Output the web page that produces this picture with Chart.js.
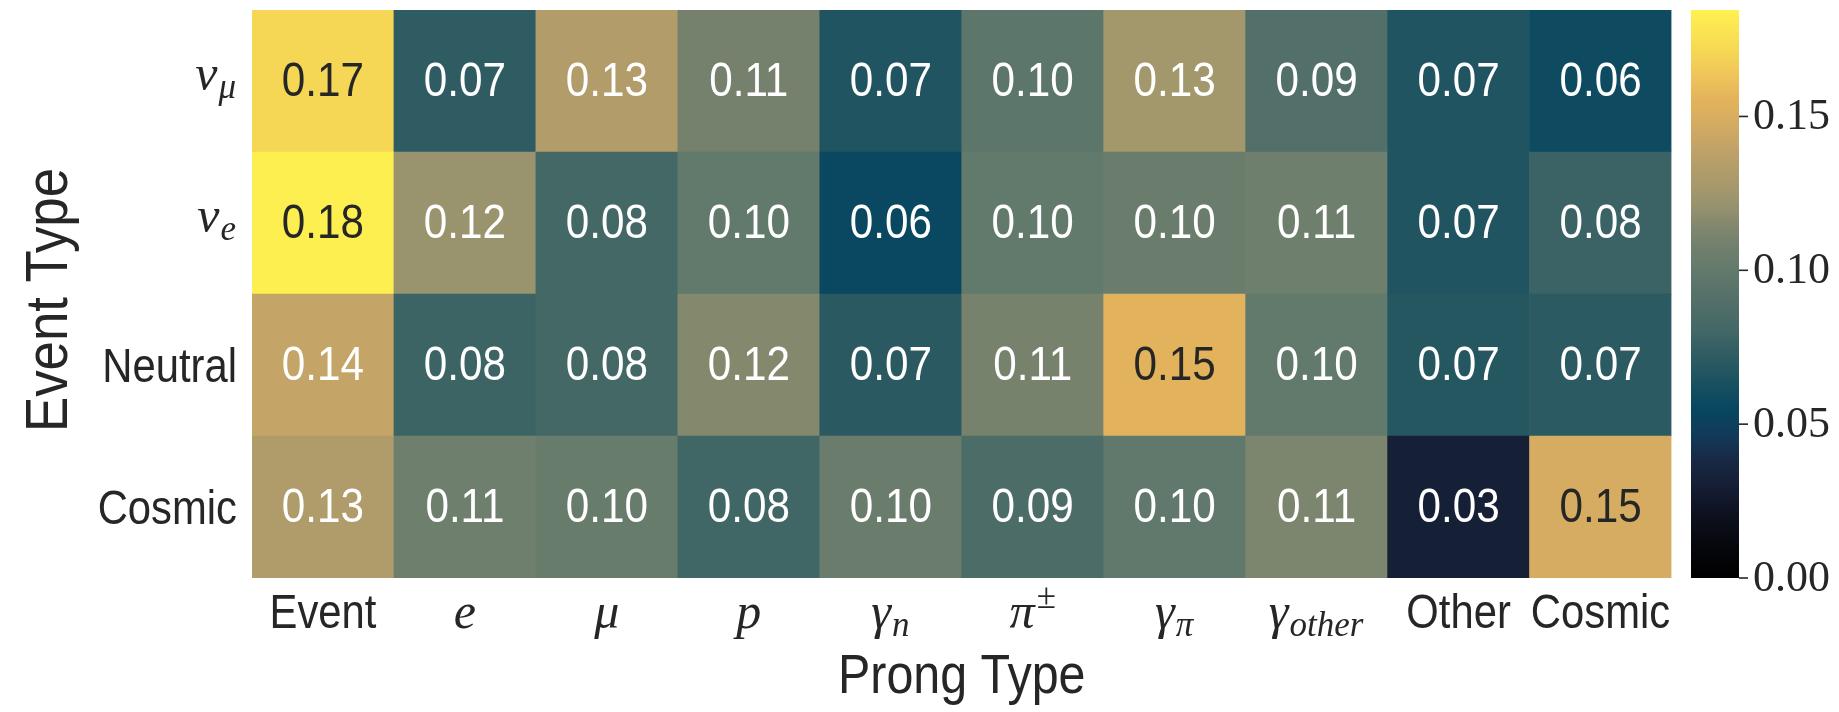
<!DOCTYPE html>
<html>
<head>
<meta charset="utf-8">
<script src="https://cdn.jsdelivr.net/npm/chart.js@4.4.1/dist/chart.umd.min.js"></script>
<style>
    html, body {margin: 0; background: #fff;}
    #wrap {position: relative; width: 1839px; height: 712px;}
</style>
</head>
<body>
<div id="wrap"><canvas id="chart"></canvas></div>
<script>
// Prong types (columns) and event types (rows, top to bottom)
const prongLabels = ['Event', 'e', 'μ', 'p', 'γ_n', 'π^±', 'γ_π', 'γ_other', 'Other', 'Cosmic'];
const eventLabels = ['ν_μ', 'ν_e', 'Neutral', 'Cosmic'];

// Fractions, one array per event type
const rowNuMu    = [0.171, 0.072, 0.133, 0.109, 0.066, 0.096, 0.126, 0.090, 0.066, 0.058];
const rowNuE     = [0.184, 0.122, 0.081, 0.100, 0.056, 0.100, 0.104, 0.106, 0.066, 0.077];
const rowNeutral = [0.141, 0.078, 0.081, 0.115, 0.070, 0.110, 0.155, 0.100, 0.068, 0.071];
const rowCosmic  = [0.132, 0.106, 0.103, 0.079, 0.104, 0.086, 0.099, 0.112, 0.031, 0.148];

// Colour bar
const cbMax   = 0.1846;
const cbTicks = [0.00, 0.05, 0.10, 0.15];

// Colour map stops (value -> colour)
const cmapStops  = [0, 0.010, 0.020, 0.030, 0.038, 0.046, 0.055, 0.062, 0.068, 0.074, 0.080, 0.090,
                    0.100, 0.108, 0.115, 0.121, 0.128, 0.134, 0.141, 0.150, 0.156, 0.163, 0.172, 0.185];
const cmapColors = ['#000000', '#06070b', '#0d101e', '#151e34', '#182844', '#123a58', '#084660', '#164f60',
                    '#255761', '#335e63', '#426766', '#536f69', '#627a6c', '#72806d', '#84886d', '#97926f',
                    '#a8996b', '#b49d6a', '#c5a467', '#d9ae61', '#e4b45b', '#eec45a', '#f6d954', '#fff150'];

const SANS  = '"Liberation Sans", Arial, sans-serif';
const SERIF = '"Liberation Serif", "Times New Roman", serif';
const DARK  = '#262626';

const hexRgb = h => [1, 3, 5].map(i => parseInt(h.substr(i, 2), 16));

function cmapRgb(v) {
    if (v <= cmapStops[0]) return hexRgb(cmapColors[0]);
    for (let i = 1; i < cmapStops.length; i++) {
        if (v <= cmapStops[i]) {
            const t = (v - cmapStops[i - 1]) / (cmapStops[i] - cmapStops[i - 1]);
            const a = hexRgb(cmapColors[i - 1]);
            const b = hexRgb(cmapColors[i]);
            return a.map((c, k) => Math.round(c + (b[k] - c) * t));
        }
    }
    return hexRgb(cmapColors[cmapColors.length - 1]);
}
const cmap = v => `rgb(${cmapRgb(v).join(',')})`;

// same rule seaborn uses to pick annotation colour
function luminance(rgb) {
    const lin = rgb.map(c => {
        c /= 255;
        return c <= 0.03928 ? c / 12.92 : Math.pow((c + 0.055) / 1.055, 2.4);
    });
    return 0.2126 * lin[0] + 0.7152 * lin[1] + 0.0722 * lin[2];
}

function sansText(ctx, text, x, y, align, size) {
    ctx.save();
    ctx.font = `${size}px ${SANS}`;
    ctx.textAlign = align;
    ctx.translate(x, y);
    ctx.scale(0.88, 1);
    ctx.fillText(text, 0, 0);
    ctx.restore();
}

// label like 'γ_n' or 'π^±' -> math italic with sub/superscript
function isMath(label) {
    return /^.[_^]/.test(label) || [...label].length === 1;
}

function mathText(ctx, label, x, y, align) {
    const base = label[0];
    const sub  = label.includes('_') ? label.split('_')[1] : '';
    const sup  = label.includes('^') ? label.split('^')[1] : '';
    const baseFont = `italic 50px ${SERIF}`;
    const subFont  = `italic 35px ${SERIF}`;
    const supFont  = `35px ${SERIF}`;
    ctx.save();
    ctx.textAlign = 'left';
    ctx.font = baseFont;
    const wb = ctx.measureText(base).width;
    ctx.font = subFont;
    const ws = sub ? ctx.measureText(sub).width : 0;
    ctx.font = supFont;
    const wp = sup ? ctx.measureText(sup).width : 0;
    const w  = wb + Math.max(ws, wp) + (sub || sup ? 2 : 0);
    const x0 = align === 'right' ? x - w : x - w / 2;
    ctx.font = baseFont;
    ctx.fillText(base, x0, y);
    if (sub) {
        ctx.font = subFont;
        ctx.fillText(sub, x0 + wb + 1, y + 8);
    }
    if (sup) {
        ctx.font = supFont;
        ctx.fillText(sup, x0 + wb + 2, y - 20);
    }
    ctx.restore();
}

function drawLabel(ctx, label, x, y, align) {
    if (isMath(label)) mathText(ctx, label, x, y, align);
    else sansText(ctx, label, x, y, align, 47.5);
}

// rows bottom-up, so the stack starts with Cosmic
const rows = [
    {name: eventLabels[3], values: rowCosmic},
    {name: eventLabels[2], values: rowNeutral},
    {name: eventLabels[1], values: rowNuE},
    {name: eventLabels[0], values: rowNuMu}
];

const cellText = {
    id: 'cellText',
    afterDatasetsDraw(chart) {
        const ctx = chart.ctx;
        ctx.save();
        ctx.textBaseline = 'middle';
        chart.data.datasets.forEach((ds, i) => {
            chart.getDatasetMeta(i).data.forEach((bar, j) => {
                const v = ds.cellValues[j];
                ctx.fillStyle = luminance(cmapRgb(v)) > 0.408 ? DARK : '#ffffff';
                sansText(ctx, v.toFixed(2), bar.x, (bar.y + bar.base) / 2 + 2, 'center', 48);
            });
        });
        ctx.restore();
    }
};

const axesAndBar = {
    id: 'axesAndBar',
    afterDraw(chart) {
        const ctx  = chart.ctx;
        const area = chart.chartArea;
        const sx   = chart.scales.x;
        const sy   = chart.scales.y;
        const cb   = chart.scales.cb;
        ctx.save();
        ctx.fillStyle = DARK;
        ctx.textBaseline = 'alphabetic';

        prongLabels.forEach((l, j) => drawLabel(ctx, l, sx.getPixelForValue(j), area.bottom + 50, 'center'));
        rows.forEach((r, k) => {
            const yc = sy.getPixelForValue(k + 0.5);
            if (isMath(r.name)) mathText(ctx, r.name, area.left - 15, yc + 9, 'right');
            else sansText(ctx, r.name, area.left - 15, yc + 17, 'right', 47.5);
        });

        sansText(ctx, 'Prong Type', (area.left + area.right) / 2, 693, 'center', 55);
        ctx.save();
        ctx.translate(67, (area.top + area.bottom) / 2 + 6);
        ctx.rotate(-Math.PI / 2);
        sansText(ctx, 'Event Type', 0, 0, 'center', 60);
        ctx.restore();

        // colour bar
        const x1 = area.right + 19.5;
        const x2 = x1 + 48;
        const y0 = cb.getPixelForValue(0);
        const y1 = cb.getPixelForValue(cbMax);
        const grad = ctx.createLinearGradient(0, y0, 0, y1);
        cmapStops.forEach((s, i) => grad.addColorStop(Math.min(s / cbMax, 1), cmapColors[i]));
        ctx.fillStyle = grad;
        ctx.fillRect(x1, y1, x2 - x1, y0 - y1);

        ctx.strokeStyle = DARK;
        ctx.lineWidth = 1.6;
        ctx.fillStyle = DARK;
        ctx.font = `44px ${SERIF}`;
        ctx.textAlign = 'left';
        ctx.textBaseline = 'middle';
        cbTicks.forEach(t => {
            const y = cb.getPixelForValue(t);
            ctx.beginPath();
            ctx.moveTo(x2, y);
            ctx.lineTo(x2 + 9, y);
            ctx.stroke();
            ctx.fillText(t.toFixed(2), x2 + 14, y + 1);
        });
        ctx.restore();
    }
};

new Chart(document.getElementById('chart'), {
    type: 'bar',
    data: {
        labels: prongLabels,
        datasets: rows.map(r => ({
            label: r.name,
            data: r.values.map(() => 1),
            cellValues: r.values,
            backgroundColor: r.values.map(cmap),
            borderWidth: 0,
            barPercentage: 1,
            categoryPercentage: 1
        }))
    },
    options: {
        responsive: true,
        maintainAspectRatio: false,
        animation: false,
        layout: {padding: {left: 252, right: 167.5, top: 10, bottom: 134}},
        plugins: {
            legend: {display: false},
            tooltip: {
                callbacks: {
                    label: item => `${item.dataset.label}: ${item.dataset.cellValues[item.dataIndex].toFixed(2)}`
                }
            }
        },
        scales: {
            x : {display: false, stacked: true, grid: {display: false}},
            y : {display: false, stacked: true, min: 0, max: 4},
            cb: {display: false, type: 'linear', position: 'right', min: 0, max: cbMax}
        }
    },
    plugins: [cellText, axesAndBar]
});
</script>
</body>
</html>
